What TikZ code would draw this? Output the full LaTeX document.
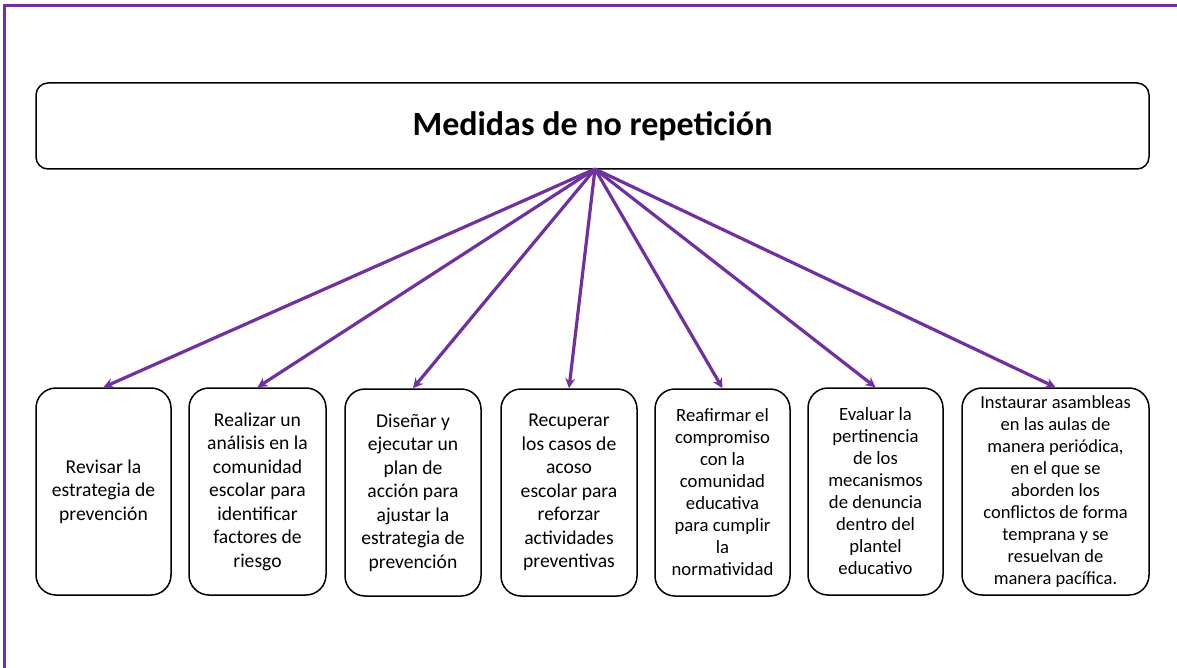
\documentclass[tikz,border=0pt]{standalone}
\usepackage{fontspec}
\setmainfont{Carlito}
\usetikzlibrary{arrows.meta}
\definecolor{vio}{HTML}{7030A0}
\begin{document}
\begin{tikzpicture}[x=1pt,y=-1pt,
  boxA/.style={draw=black, line width=1.5pt, rounded corners=20pt, minimum height=207pt, align=center, inner sep=1pt, font=\fontsize{19.6}{23.5}\selectfont},
  boxB/.style={boxA, font=\fontsize{18.7}{22}\selectfont},
  link/.style={draw=vio, line width=3.2pt, -{Stealth[length=10pt,width=10pt]}}]
\useasboundingbox (0,0) rectangle (1177,668);
\clip (0,0) rectangle (1177,668);
\fill[white] (0,0) rectangle (1177,668);
\draw[vio, line width=3pt] (4,6) rectangle (1220,720);
\node[draw=black, line width=1.5pt, rounded corners=12pt, minimum width=1113pt, minimum height=86pt, font=\fontsize{34}{40}\bfseries\selectfont] (title) at (592.5,126) {Medidas de no repetición};
\coordinate (hub) at (595,169);
\node[boxA, minimum width=135pt] (b1) at (103.5,491.5) {Revisar la\\estrategia de\\prevención};
\node[boxA, minimum width=137pt] (b2) at (257.5,491.5) {Realizar un\\análisis en la\\comunidad\\escolar para\\identificar\\factores de\\riesgo};
\node[boxA, minimum width=136pt] (b3) at (413,492.5) {Diseñar y\\ejecutar un\\plan de\\acción para\\ajustar la\\estrategia de\\prevención};
\node[boxA, minimum width=136pt] (b4) at (569,492.5) {Recuperar\\los casos de\\acoso\\escolar para\\reforzar\\actividades\\preventivas};
\node[boxB, minimum width=135pt] (b5) at (722.5,492.5) {Reafirmar el\\compromiso\\con la\\comunidad\\educativa\\para cumplir\\la\\normatividad};
\node[boxB, minimum width=135pt] (b6) at (875.5,491.5) {Evaluar la\\pertinencia\\de los\\mecanismos\\de denuncia\\dentro del\\plantel\\educativo};
\node[boxB, minimum width=187pt, font=\fontsize{18.5}{21.9}\selectfont] (b7) at (1055.5,491.5) {Instaurar asambleas\\en las aulas de\\manera periódica,\\en el que se\\aborden los\\conflictos de forma\\temprana y se\\resuelvan de\\manera pacífica.};
\foreach \b in {b1,b2,b3,b4,b5,b6,b7} \draw[link] (hub) -- (\b.north);
\end{tikzpicture}
\end{document}
